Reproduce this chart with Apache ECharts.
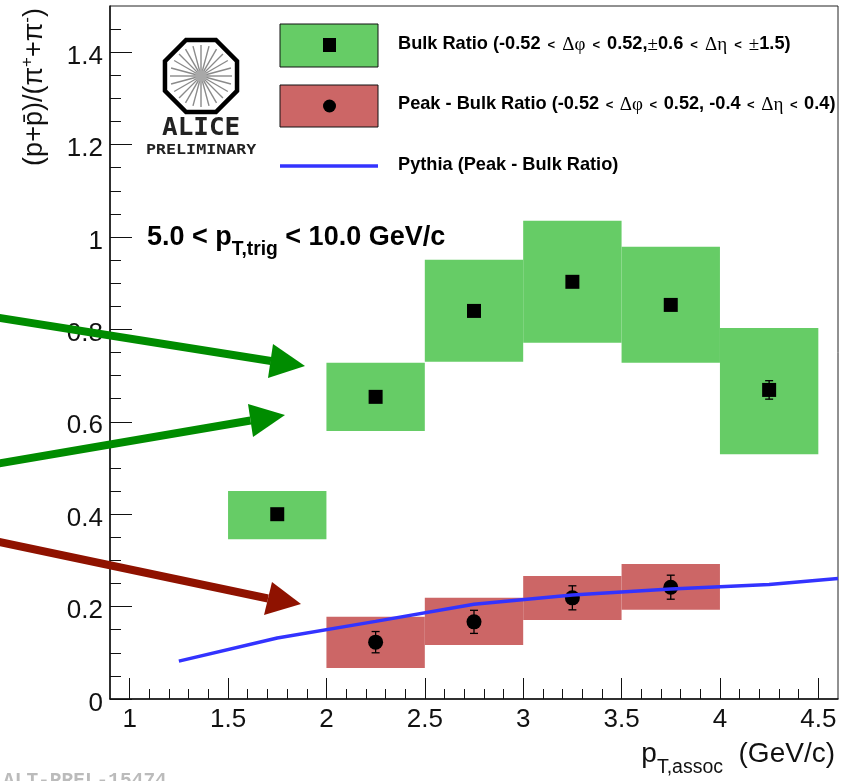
<!DOCTYPE html>
<html><head><meta charset="utf-8">
<style>html,body{margin:0;padding:0;background:#fff}#c{width:850px;height:781px}</style>
<script src="https://cdn.jsdelivr.net/npm/echarts@6/dist/echarts.min.js"></script>
</head><body><div id="c"></div>
<script>
// ---- data ----
const binLow   = [1.5, 2.0, 2.5, 3.0, 3.5, 4.0];
const binHigh  = [2.0, 2.5, 3.0, 3.5, 4.0, 4.5];
const bulkX    = [1.75, 2.25, 2.75, 3.25, 3.75, 4.25];
const bulkY    = [0.40, 0.654, 0.84, 0.903, 0.853, 0.669];
const bulkErr  = [0.008, 0.01, 0.01, 0.01, 0.01, 0.02];
const bulkSysL = [0.346, 0.58, 0.73, 0.771, 0.728, 0.53];
const bulkSysH = [0.45, 0.728, 0.951, 1.035, 0.979, 0.803];
const peakLow  = [2.0, 2.5, 3.0, 3.5];
const peakHigh = [2.5, 3.0, 3.5, 4.0];
const peakX    = [2.25, 2.75, 3.25, 3.75];
const peakY    = [0.123, 0.167, 0.219, 0.242];
const peakErr  = [0.023, 0.025, 0.026, 0.026];
const peakSysL = [0.067, 0.117, 0.171, 0.193];
const peakSysH = [0.178, 0.219, 0.266, 0.292];
const pythiaX  = [1.25, 1.75, 2.25, 2.75, 3.25, 3.75, 4.25, 4.6];
const pythiaY  = [0.082, 0.132, 0.168, 0.205, 0.225, 0.238, 0.248, 0.261];
const xMajor   = [1, 1.5, 2, 2.5, 3, 3.5, 4, 4.5];
const xMinor   = [1.1,1.2,1.3,1.4,1.6,1.7,1.8,1.9,2.1,2.2,2.3,2.4,2.6,2.7,2.8,2.9,3.1,3.2,3.3,3.4,3.6,3.7,3.8,3.9,4.1,4.2,4.3,4.4];
const yMajor   = [0, 0.2, 0.4, 0.6, 0.8, 1, 1.2, 1.4];
const yMinor   = [0.05,0.1,0.15,0.25,0.3,0.35,0.45,0.5,0.55,0.65,0.7,0.75,0.85,0.9,0.95,1.05,1.1,1.15,1.25,1.3,1.35,1.45];

const GREEN = '#66cc66', RED = '#cc6666', BLUE = '#3333ff', SANS = '"Liberation Sans", Arial, sans-serif';

function zipBoxes(lo, hi, yl, yh){ return lo.map((v,i)=>[v, hi[i], yl[i], yh[i]]); }
function zipErr(x, y, e){ return x.map((v,i)=>[v, y[i]-e[i], y[i]+e[i]]); }

function boxItem(color){
  return (p, api) => {
    const a = api.coord([api.value(0), api.value(3)]);
    const b = api.coord([api.value(1), api.value(2)]);
    return {type:'rect', shape:{x:a[0], y:a[1], width:b[0]-a[0], height:b[1]-a[1]}, style:{fill:color}};
  };
}
function errItem(p, api){
  const x = api.value(0);
  const t = api.coord([x, api.value(2)]), b = api.coord([x, api.value(1)]);
  const st = {stroke:'#000', lineWidth:1.3};
  return {type:'group', children:[
    {type:'line', shape:{x1:t[0], y1:t[1], x2:b[0], y2:b[1]}, style:st},
    {type:'line', shape:{x1:t[0]-4, y1:t[1], x2:t[0]+4, y2:t[1]}, style:st},
    {type:'line', shape:{x1:b[0]-4, y1:b[1], x2:b[0]+4, y2:b[1]}, style:st}
  ]};
}

// ---- annotation helpers ----
function arrow(x0,y0,hx,hy,ax,ay,bx,by,tx,ty,color){
  return {type:'group', z:100, children:[
    {type:'line', z:100, shape:{x1:x0,y1:y0,x2:hx,y2:hy}, style:{stroke:color, lineWidth:8}},
    {type:'polygon', z:100, shape:{points:[[ax,ay],[tx,ty],[bx,by]]}, style:{fill:color}}
  ]};
}
function logo(cx, cy){
  const R = 39, pts = [], kids = [];
  for(let i=0;i<8;i++){ const t=(i+0.5)*Math.PI/4; pts.push([cx+R*Math.cos(t), cy+R*Math.sin(t)]); }
  for(let i=0;i<24;i++){ const t=i*Math.PI/12;
    kids.push({type:'line', z:50, shape:{x1:cx+3*Math.cos(t),y1:cy+3*Math.sin(t),x2:cx+31*Math.cos(t),y2:cy+31*Math.sin(t)}, style:{stroke:'#8a8a8a',lineWidth:1.4}});
  }
  kids.push({type:'circle', z:50, shape:{cx:cx,cy:cy,r:6}, style:{fill:'#a8a8a8'}});
  kids.push({type:'polygon', z:50, shape:{points:pts}, style:{fill:'none',stroke:'#000',lineWidth:4.5}});
  return {type:'group', z:50, children:kids};
}
const legendRich = {
  b:{fontFamily:SANS,fontWeight:'bold',fontSize:18.2,color:'#000'},
  lt:{fontFamily:SANS,fontWeight:'bold',fontSize:13,color:'#000',padding:[2,2,0,2]},
  lu:{fontFamily:SANS,fontWeight:'bold',fontSize:13,color:'#000',padding:[2,1.5,0,1.5]},
  g:{fontFamily:'"Liberation Serif",serif',fontWeight:'normal',fontSize:19,color:'#000',padding:[2,0,0,0]}
};
function legendLabel(y, s){
  return {type:'text', z:60, left:398, top:y-10, style:{text:s, rich:legendRich, fontFamily:SANS, fontWeight:'bold', fontSize:18.2, fill:'#000'}};
}

const option = {
  animation:false,
  backgroundColor:'#fff',
  grid:{left:110, top:6, right:12, bottom:82, show:true, borderColor:'#222', borderWidth:1, backgroundColor:'transparent', containLabel:false, outerBoundsMode:'none'},
  xAxis:[
    {type:'value', min:0.9, max:4.6, position:'bottom', splitLine:{show:false},
     axisLine:{show:true, onZero:false, lineStyle:{color:'#111', width:1.5}},
     axisTick:{show:true, inside:true, length:21, customValues:xMajor, lineStyle:{color:'#111', width:1}},
     axisLabel:{show:true, customValues:xMajor, margin:8, fontFamily:SANS, fontSize:26, color:'#111', hideOverlap:false, showMinLabel:true, showMaxLabel:true},
     name:'{p|p}{s|T,assoc}{p|  (GeV/c)}', nameLocation:'end', nameGap:-3, nameMoveOverlap:false,
     nameTextStyle:{align:'right', verticalAlign:'top', padding:[37,0,0,0], fontFamily:SANS, fontSize:28, color:'#111',
       rich:{p:{fontFamily:SANS,fontSize:28,color:'#111',padding:[0,0,6,0]}, s:{fontFamily:SANS,fontSize:19.5,color:'#111',padding:[22,0,0,0]}}}},
    {type:'value', min:0.9, max:4.6, position:'bottom', splitLine:{show:false},
     axisLine:{show:false, onZero:false},
     axisTick:{show:true, inside:true, length:10, customValues:xMinor, lineStyle:{color:'#111', width:1}},
     axisLabel:{show:false}}
  ],
  yAxis:[
    {type:'value', min:0, max:1.5, position:'left', splitLine:{show:false},
     axisLine:{show:true, onZero:false, lineStyle:{color:'#111', width:1.5}},
     axisTick:{show:true, inside:true, length:22, customValues:yMajor, lineStyle:{color:'#111', width:1}},
     axisLabel:{show:true, customValues:yMajor, margin:7, formatter:v=>'{t|'+v+'}', hideOverlap:false,
       rich:{t:{fontFamily:SANS, fontSize:26, color:'#111', padding:[9,0,0,0]}}},
     name:'{p|(p+p\u0304)/(\u03c0}{u|+}{p|+\u03c0}{u|-}{p|)}', nameLocation:'end', nameRotate:90, nameGap:-2, nameMoveOverlap:false,
     nameTextStyle:{align:'right', verticalAlign:'bottom', padding:[0,0,60,0], fontFamily:SANS, fontSize:27, color:'#111',
       rich:{p:{fontFamily:SANS,fontSize:27,color:'#111'}, u:{fontFamily:SANS,fontSize:17,color:'#111',padding:[0,0,14,0]}}}},
    {type:'value', min:0, max:1.5, position:'left', splitLine:{show:false},
     axisLine:{show:false, onZero:false},
     axisTick:{show:true, inside:true, length:11, customValues:yMinor, lineStyle:{color:'#111', width:1}},
     axisLabel:{show:false}}
  ],
  series:[
    {name:'Bulk Ratio sys', type:'custom', z:2, clip:true, renderItem:boxItem(GREEN), data:zipBoxes(binLow,binHigh,bulkSysL,bulkSysH), encode:{x:[0,1],y:[2,3]}},
    {name:'Peak sys', type:'custom', z:2, clip:true, renderItem:boxItem(RED), data:zipBoxes(peakLow,peakHigh,peakSysL,peakSysH), encode:{x:[0,1],y:[2,3]}},
    {name:'Bulk err', type:'custom', z:3, renderItem:errItem, data:zipErr(bulkX,bulkY,bulkErr), encode:{x:0,y:[1,2]}},
    {name:'Peak err', type:'custom', z:3, renderItem:errItem, data:zipErr(peakX,peakY,peakErr), encode:{x:0,y:[1,2]}},
    {name:'Bulk Ratio', type:'scatter', z:4, symbol:'rect', symbolSize:14, itemStyle:{color:'#000', opacity:1}, data:bulkX.map((x,i)=>[x,bulkY[i]])},
    {name:'Peak - Bulk Ratio', type:'scatter', z:4, symbol:'circle', symbolSize:15, itemStyle:{color:'#000', opacity:1}, data:peakX.map((x,i)=>[x,peakY[i]])},
    {name:'Pythia (Peak - Bulk Ratio)', type:'line', z:5, smooth:false, showSymbol:false, clip:true, lineStyle:{color:BLUE, width:3.5, cap:'butt'}, data:pythiaX.map((x,i)=>[x,pythiaY[i]])}
  ],
  graphic:[
    logo(201, 76),
    {type:'text', z:50, x:162, y:116, scaleX:1, scaleY:0.95, style:{text:'ALICE', fontFamily:'"DejaVu Sans Mono", monospace', fontWeight:'bold', fontSize:26, fill:'#222'}},
    {type:'text', z:50, x:146, y:143, scaleX:1.19, style:{text:'PRELIMINARY', fontFamily:'"DejaVu Sans Mono", monospace', fontWeight:'bold', fontSize:14, fill:'#222'}},
    // legend
    {type:'rect', z:60, shape:{x:280,y:24,width:98,height:43}, style:{fill:GREEN, stroke:'#111', lineWidth:1}},
    {type:'rect', z:61, shape:{x:323,y:38,width:13,height:14}, style:{fill:'#000'}},
    {type:'rect', z:60, shape:{x:280,y:85,width:98,height:42}, style:{fill:RED, stroke:'#111', lineWidth:1}},
    {type:'circle', z:61, shape:{cx:329.5,cy:106,r:6.5}, style:{fill:'#000'}},
    {type:'line', z:60, shape:{x1:280,y1:166,x2:378,y2:166}, style:{stroke:BLUE, lineWidth:3.5}},
    legendLabel(45, '{b|Bulk Ratio (-0.52 }{lt|<} {g|\u0394\u03c6} {lt|<}{b| 0.52,}{g|\u00b1}{b|0.6 }{lt|<} {g|\u0394\u03b7} {lt|<} {g|\u00b1}{b|1.5)}'),
    legendLabel(105, '{b|Peak - Bulk Ratio (-0.52 }{lu|<} {g|\u0394\u03c6} {lu|<}{b| 0.52, -0.4 }{lu|<} {g|\u0394\u03b7} {lu|<}{b| 0.4)}'),
    legendLabel(166, '{b|Pythia (Peak - Bulk Ratio)}'),
    // trigger label
    {type:'text', z:60, left:147, top:224, style:{text:'{m|5.0 < p}{s|T,trig}{m| < 10.0 GeV/c}', fontFamily:SANS, fontWeight:'bold', fontSize:27,
      rich:{m:{fontFamily:SANS,fontWeight:'bold',fontSize:27,color:'#000'}, s:{fontFamily:SANS,fontWeight:'bold',fontSize:19.3,color:'#000',padding:[24,0,0,0]}}}},
    // preliminary id
    {type:'text', z:60, left:3, top:771, silent:true, style:{text:'ALT-PREL-15474', fontFamily:'"Liberation Mono", monospace', fontWeight:'bold', fontSize:19.5, fill:'#bbbbbb'}},
    // arrows
    arrow(-10,316.4,271,361,273,344,268,378,305,366,'#008c00'),
    arrow(-10,465,250.5,420.5,248,404,253,437,285,415,'#008c00'),
    arrow(-10,540,268,598.5,272,582,264,615,301,604,'#8f1200')
  ]
};
const chart = echarts.init(document.getElementById('c'), null, {renderer:'canvas'});
chart.setOption(option);
</script>
</body></html>
